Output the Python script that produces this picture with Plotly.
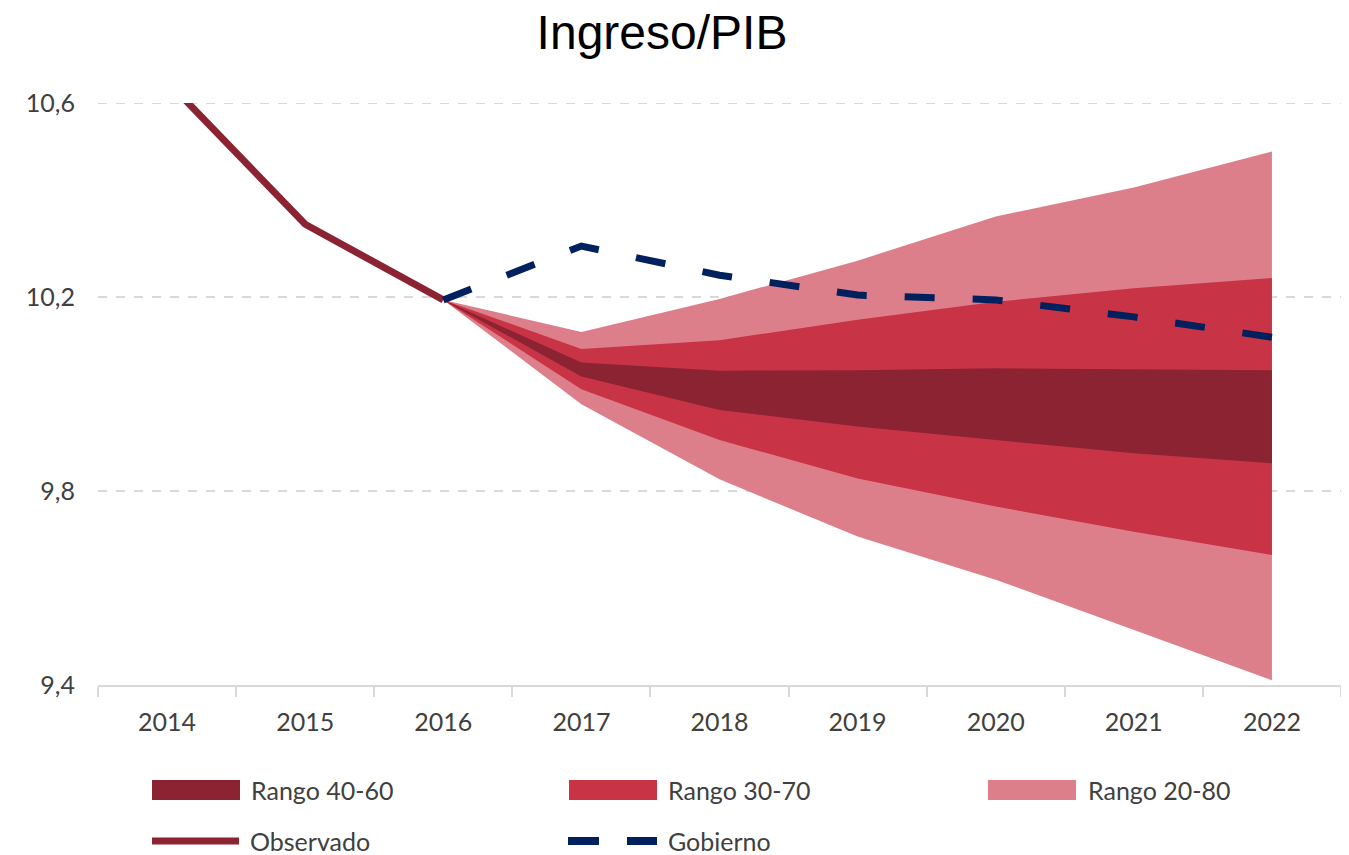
import plotly.graph_objects as go

years = ["2014", "2015", "2016", "2017", "2018", "2019", "2020", "2021", "2022"]
fan_years = ["2016", "2017", "2018", "2019", "2020", "2021", "2022"]

observado_years = ["2014", "2015", "2016"]
observado = [10.645, 10.35, 10.194]

gobierno = [10.194, 10.305, 10.245, 10.204, 10.194, 10.159, 10.117]

p80_upper = [10.194, 10.128, 10.196, 10.275, 10.366, 10.426, 10.500]
p70_upper = [10.194, 10.093, 10.111, 10.153, 10.190, 10.218, 10.239]
p60_upper = [10.194, 10.065, 10.048, 10.049, 10.053, 10.051, 10.049]
p60_lower = [10.194, 10.036, 9.967, 9.933, 9.905, 9.878, 9.857]
p70_lower = [10.194, 10.010, 9.905, 9.826, 9.768, 9.716, 9.668]
p80_lower = [10.194, 9.979, 9.824, 9.706, 9.617, 9.513, 9.410]

y_ticks = [9.4, 9.8, 10.2, 10.6]

C60 = "#8B2332"
C70 = "#C83446"
C80 = "#DD7F8A"
CGOB = "#00215E"
CTXT = "#404040"
CGRID = "#D9D9D9"
FONT = "Lato, 'Open Sans', sans-serif"

# page has an 8px body margin: work in figure coordinates
OFF = 8
W, H = 1349 - OFF, 855 - OFF

fig = go.Figure()

def band(lower, upper, color, name):
    fig.add_trace(go.Scatter(x=fan_years, y=lower, mode="lines", line=dict(width=0, color=color),
                             showlegend=False, hoverinfo="skip"))
    fig.add_trace(go.Scatter(x=fan_years, y=upper, mode="lines", line=dict(width=0, color=color),
                             fill="tonexty", fillcolor=color, name=name, showlegend=False))

band(p80_lower, p80_upper, C80, "Rango 20-80")
band(p70_lower, p70_upper, C70, "Rango 30-70")
band(p60_lower, p60_upper, C60, "Rango 40-60")

fig.add_trace(go.Scatter(x=observado_years, y=observado, mode="lines", name="Observado",
                         line=dict(color=C60, width=7), showlegend=False))
fig.add_trace(go.Scatter(x=fan_years, y=gobierno, mode="lines", name="Gobierno",
                         line=dict(color=CGOB, width=7, dash="30px,38px"), showlegend=False))

# plot area geometry in page pixels
L, R, T, B = 98, 1341, 103, 685
def px(x):
    return (x - L) / (R - L)
def py(y):
    return (B - y) / (B - T)

shapes = []
annotations = []

# top gridline at 10.6 (sits on the plot edge)
shapes.append(dict(type="line", xref="paper", yref="y", x0=0, x1=1, y0=10.6, y1=10.6,
                   line=dict(color=CGRID, width=2, dash="dash"), layer="below"))

legend_items = [
    (C60, 152, 240, 790, "Rango 40-60", 249),
    (C70, 569, 657, 790, "Rango 30-70", 666),
    (C80, 988, 1076, 790, "Rango 20-80", 1086),
]
for col, x0, x1, yc, label, tx in legend_items:
    shapes.append(dict(type="rect", xref="paper", yref="paper", x0=px(x0), x1=px(x1),
                       y0=py(yc + 10), y1=py(yc - 10), fillcolor=col, line=dict(width=0)))
    annotations.append(dict(x=px(tx), y=py(yc), xref="paper", yref="paper", text=label,
                            showarrow=False, xanchor="left", yanchor="middle",
                            font=dict(family=FONT, size=25, color=CTXT)))

# Observado legend line
shapes.append(dict(type="line", xref="paper", yref="paper", x0=px(152), x1=px(239),
                   y0=py(841), y1=py(841), line=dict(color=C60, width=7)))
annotations.append(dict(x=px(248), y=py(841), xref="paper", yref="paper", text="Observado",
                        showarrow=False, xanchor="left", yanchor="middle",
                        font=dict(family=FONT, size=25, color=CTXT)))
# Gobierno legend dashes
for a, b in [(568, 599), (627, 657)]:
    shapes.append(dict(type="line", xref="paper", yref="paper", x0=px(a), x1=px(b),
                       y0=py(841), y1=py(841), line=dict(color=CGOB, width=8)))
annotations.append(dict(x=px(666), y=py(841), xref="paper", yref="paper", text="Gobierno",
                        showarrow=False, xanchor="left", yanchor="middle",
                        font=dict(family=FONT, size=25, color=CTXT)))

fig.update_layout(
    width=W, height=H,
    margin=dict(l=L - OFF, r=W - (R - OFF), t=T - OFF, b=H - (B - OFF), autoexpand=False),
    paper_bgcolor="white", plot_bgcolor="white",
    separators=", ",
    title=dict(text="Ingreso/PIB", x=(662 - OFF) / W, xanchor="center", xref="container",
               y=1 - (32 - OFF) / H, yanchor="middle", yref="container",
               font=dict(family="Liberation Sans, Arial, sans-serif", size=48, color="#000000")),
    shapes=shapes, annotations=annotations,
    showlegend=False,
)
fig.update_xaxes(
    type="category", categoryorder="array", categoryarray=years,
    range=[-0.5, 8.5],
    showgrid=False, showline=True, linecolor=CGRID, linewidth=2,
    ticks="outside", tickson="boundaries", ticklen=10, tickcolor=CGRID, tickwidth=2,
    tickfont=dict(family=FONT, size=25, color=CTXT), ticklabelstandoff=14,
    zeroline=False,
)
fig.update_yaxes(
    range=[9.4, 10.6], tickvals=y_ticks, tickformat=".1f",
    showgrid=True, gridcolor=CGRID, gridwidth=2, griddash="dash",
    showline=False, zeroline=False, ticks="",
    tickfont=dict(family=FONT, size=25, color=CTXT), ticklabelstandoff=22,
)

fig.write_html("out.html")
